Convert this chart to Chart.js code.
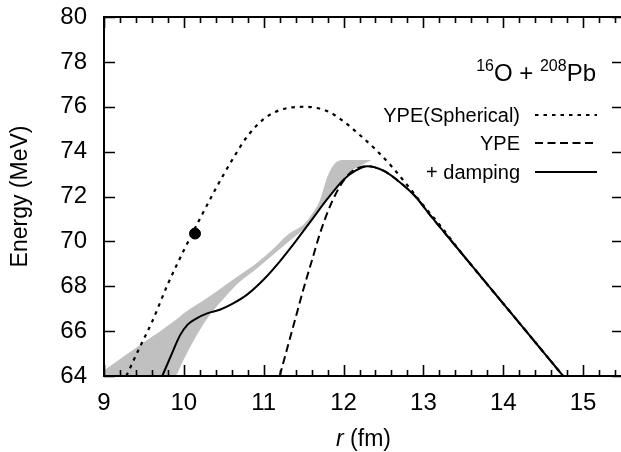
<!DOCTYPE html>
<html>
<head>
<meta charset="utf-8">
<script src="https://cdn.jsdelivr.net/npm/chart.js@4"></script>
<style>
  html, body { margin: 0; padding: 0; background: #fff; overflow: hidden; }
  #wrap { width: 640px; height: 452px; }
</style>
</head>
<body>
<div id="wrap"><canvas id="chart" width="640" height="452"></canvas></div>
<script>
// tick labels
const xTicks = [9, 10, 11, 12, 13, 14, 15];
const yTicks = [64, 66, 68, 70, 72, 74, 76, 78, 80];

// YPE(Spherical) - dotted
const sphR = [9.28, 9.45, 9.6, 9.8, 10.0, 10.2, 10.4, 10.6, 10.8, 11.0, 11.2, 11.5, 11.8, 12.0, 12.2, 12.4, 12.6, 12.8, 13.0, 13.2, 13.5, 14.0, 14.5, 14.75];
const sphE = [64.0, 65.3, 66.4, 68.1, 69.6, 71.0, 72.35, 73.6, 74.7, 75.45, 75.85, 76.0, 75.8, 75.35, 74.75, 74.1, 73.35, 72.5, 71.6, 70.75, 69.38, 67.23, 65.08, 64.0];

// YPE - dashed
const ypeR = [11.2, 11.3, 11.4, 11.5, 11.6, 11.7, 11.8, 11.9, 12.0, 12.1, 12.2, 12.3, 12.5, 12.7, 12.9, 13.1, 13.5, 14.0, 14.5, 14.75];
const ypeE = [64.0, 65.3, 66.6, 67.9, 69.1, 70.3, 71.3, 72.1, 72.7, 73.1, 73.3, 73.35, 73.15, 72.65, 72.0, 71.1, 69.38, 67.23, 65.08, 64.0];

// + damping - solid
const dampR = [9.73, 9.85, 9.95, 10.05, 10.15, 10.3, 10.45, 10.6, 10.8, 11.0, 11.2, 11.4, 11.6, 11.8, 12.0, 12.15, 12.3, 12.5, 12.7, 12.9, 13.1, 13.5, 14.0, 14.5, 14.75];
const dampE = [64.0, 65.0, 65.8, 66.3, 66.55, 66.8, 66.95, 67.2, 67.65, 68.3, 69.1, 70.0, 70.95, 71.9, 72.75, 73.15, 73.35, 73.15, 72.65, 72.0, 71.1, 69.38, 67.23, 65.08, 64.0];

// grey band (upper / lower edge)
const bandR = [9.0, 9.5, 9.88, 10.0, 10.15, 10.3, 10.5, 10.7, 10.9, 11.1, 11.3, 11.5, 11.6, 11.7, 11.8, 11.9, 12.0, 12.1, 12.2, 12.35];
const bandHi = [64.25, 65.5, 66.45, 66.8, 67.15, 67.5, 68.0, 68.5, 69.0, 69.6, 70.3, 70.75, 71.2, 71.8, 72.9, 73.5, 73.63, 73.63, 73.63, 73.63];
const bandLo = [64.0, 64.0, 64.0, 64.75, 65.75, 66.6, 67.45, 68.2, 68.75, 69.35, 69.95, 70.55, 70.95, 71.45, 71.95, 72.4, 72.8, 73.15, 73.35, 73.63];

// single point
const dotR = [10.14];
const dotE = [70.35];

const FONT = '"Liberation Sans", Arial, Helvetica, sans-serif';
const pts = (xs, ys) => xs.map((v, i) => ({ x: v, y: ys[i] }));

const frameTicks = {
    id: 'frameTicks',
    afterDraw(chart) {
        const { ctx, chartArea: { left, right, top, bottom }, scales: { x, y } } = chart;
        ctx.save();
        ctx.strokeStyle = '#000';
        ctx.lineWidth = 1.6;
        ctx.beginPath();
        for (let i = 0; i <= 32; i++) {
            const v = 9 + i * 0.2;
            const px = Math.round(x.getPixelForValue(v)) + 0.5;
            const len = (i % 5 === 0) ? 11 : 6;
            ctx.moveTo(px, bottom); ctx.lineTo(px, bottom - len);
            ctx.moveTo(px, top); ctx.lineTo(px, top + len);
        }
        yTicks.forEach(v => {
            const py = Math.round(y.getPixelForValue(v)) + 0.5;
            ctx.moveTo(left, py); ctx.lineTo(left + 11, py);
            ctx.moveTo(right, py); ctx.lineTo(right - 11, py);
        });
        ctx.stroke();
        ctx.lineWidth = 2;
        ctx.strokeRect(left, top, right - left, bottom - top);

        // x axis title, italic r
        ctx.fillStyle = '#000';
        ctx.textBaseline = 'alphabetic';
        ctx.font = 'italic 23px ' + FONT;
        const w1 = ctx.measureText('r').width;
        ctx.font = '23px ' + FONT;
        const w2 = ctx.measureText(' (fm)').width;
        const cx = (left + right) / 2;
        let sx = cx - (w1 + w2) / 2;
        ctx.font = 'italic 23px ' + FONT;
        ctx.fillText('r', sx, 446);
        ctx.font = '23px ' + FONT;
        ctx.fillText(' (fm)', sx + w1, 446);

        // title 16O + 208Pb
        const parts = [['16', 1], ['O + ', 0], ['208', 1], ['Pb', 0]];
        const widths = parts.map(([t, s]) => {
            ctx.font = (s ? '16px ' : '24px ') + FONT;
            return ctx.measureText(t).width;
        });
        let tx = 596 - widths.reduce((a, b) => a + b, 0);
        parts.forEach(([t, s], i) => {
            ctx.font = (s ? '16px ' : '24px ') + FONT;
            ctx.fillText(t, tx, s ? 71 : 81);
            tx += widths[i];
        });

        // legend
        const items = [
            ['YPE(Spherical)', 115, [3.5, 5]],
            ['YPE', 143, [8, 4.5]],
            ['+ damping', 172, []]
        ];
        ctx.font = '20px ' + FONT;
        ctx.textAlign = 'right';
        ctx.textBaseline = 'middle';
        items.forEach(([t, yy, dash]) => {
            ctx.fillText(t, 520, yy + 1);
            ctx.setLineDash(dash);
            ctx.beginPath();
            ctx.moveTo(535, yy); ctx.lineTo(597, yy);
            ctx.stroke();
        });
        ctx.restore();
    }
};

new Chart(document.getElementById('chart').getContext('2d'), {
    type: 'line',
    data: {
        datasets: [
            {
                data: pts(bandR, bandHi),
                fill: '+1',
                backgroundColor: '#c0c0c0',
                borderWidth: 0,
                borderColor: 'rgba(0,0,0,0)',
                pointRadius: 0,
                cubicInterpolationMode: 'monotone',
                order: 10
            },
            {
                data: pts(bandR, bandLo),
                fill: false,
                borderWidth: 0,
                borderColor: 'rgba(0,0,0,0)',
                pointRadius: 0,
                cubicInterpolationMode: 'monotone',
                order: 10
            },
            {
                data: pts(sphR, sphE),
                borderColor: '#000',
                borderWidth: 2.2,
                borderDash: [3.5, 5],
                pointRadius: 0,
                fill: false,
                cubicInterpolationMode: 'monotone',
                order: 4
            },
            {
                data: pts(ypeR, ypeE),
                borderColor: '#000',
                borderWidth: 2,
                borderDash: [8, 4.5],
                pointRadius: 0,
                fill: false,
                cubicInterpolationMode: 'monotone',
                order: 3
            },
            {
                data: pts(dampR, dampE),
                borderColor: '#000',
                borderWidth: 2,
                pointRadius: 0,
                fill: false,
                cubicInterpolationMode: 'monotone',
                order: 2
            },
            {
                data: pts(dotR, dotE),
                showLine: false,
                pointRadius: 5.5,
                pointBackgroundColor: '#000',
                pointBorderColor: '#000',
                order: 1
            }
        ]
    },
    options: {
        responsive: false,
        animation: false,
        events: [],
        layout: { padding: { left: 0, top: 17, right: 17, bottom: 0 } },
        plugins: { legend: { display: false }, tooltip: { enabled: false } },
        scales: {
            x: {
                type: 'linear',
                min: 9,
                max: 15.5,
                grid: { display: false, drawTicks: false },
                border: { display: false },
                afterBuildTicks: s => { s.ticks = xTicks.map(v => ({ value: v })); },
                afterFit: s => { s.height = 76; s.paddingLeft = 0; s.paddingRight = 0; },
                ticks: {
                    color: '#000',
                    padding: 13,
                    maxRotation: 0,
                    autoSkip: false,
                    font: { family: FONT, size: 24 }
                }
            },
            y: {
                min: 64,
                max: 80,
                grid: { display: false, drawTicks: false },
                border: { display: false },
                afterBuildTicks: s => { s.ticks = yTicks.map(v => ({ value: v })); },
                afterFit: s => { s.width = 104; s.paddingTop = 0; s.paddingBottom = 0; },
                title: {
                    display: true,
                    text: 'Energy (MeV)',
                    color: '#000',
                    font: { family: FONT, size: 23 },
                    padding: { top: 7, bottom: 0 }
                },
                ticks: {
                    color: '#000',
                    padding: 17,
                    font: { family: FONT, size: 24 }
                }
            }
        }
    },
    plugins: [frameTicks]
});
</script>
</body>
</html>
